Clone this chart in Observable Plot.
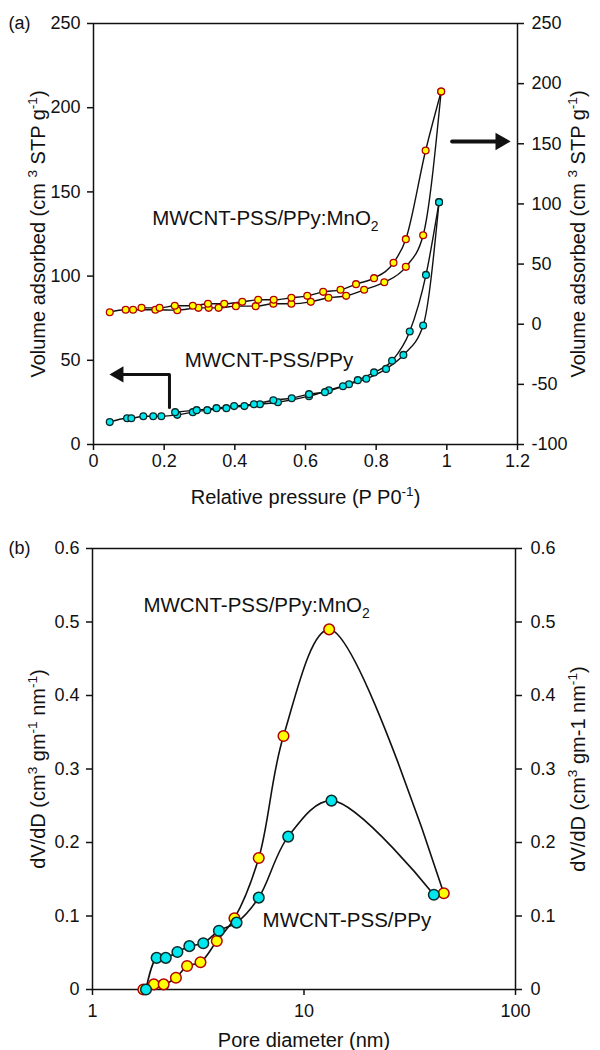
<!DOCTYPE html>
<html><head><meta charset="utf-8">
<script src="https://cdn.jsdelivr.net/npm/d3@7"></script>
<script src="https://cdn.jsdelivr.net/npm/@observablehq/plot@0.6"></script>
<style>
body{margin:0;background:#fff;}
#chart svg{display:block}
</style></head><body><div id="chart"></div>
<script>
// ---------- Panel (a): N2 isotherms ----------
// MWCNT-PSS/PPy (left axis, cm3 STP g-1)
const ppyAdsP = [0.046,0.095,0.107,0.141,0.169,0.192,0.237,0.281,0.322,0.376,0.427,0.471,0.522,0.610,0.666,0.723,0.772,0.828,0.877,0.933,0.978];
const ppyAdsV = [13.3,15.6,15.6,16.8,16.8,16.8,17.6,19.2,20.4,21.6,22.8,23.9,25.1,28.7,32.2,35.8,39.0,44.9,53.2,70.7,143.9];
const ppyDesP = [0.231,0.292,0.348,0.398,0.454,0.509,0.561,0.610,0.655,0.706,0.748,0.794,0.845,0.895,0.941,0.978];
const ppyDesV = [19.2,20.4,21.6,22.8,23.9,26.3,27.5,29.9,31.1,34.6,38.2,42.8,49.7,67.1,100.7,143.9];
// MWCNT-PSS/PPy:MnO2 (right axis, cm3 STP g-1)
const mnAdsP = [0.046,0.091,0.112,0.175,0.237,0.297,0.326,0.354,0.403,0.459,0.509,0.560,0.615,0.665,0.715,0.766,0.823,0.884,0.933,0.984];
const mnAdsV = [10.0,12.0,12.0,12.0,11.7,13.6,13.6,13.6,15.0,15.0,17.0,17.0,18.6,22.0,23.6,28.6,34.9,47.7,74.0,193.5];
const mnDesP = [0.136,0.187,0.230,0.281,0.324,0.370,0.421,0.466,0.510,0.560,0.605,0.650,0.699,0.743,0.794,0.849,0.884,0.940,0.984];
const mnDesV = [13.6,13.6,15.3,15.3,17.0,17.0,18.6,20.3,20.3,22.0,23.6,26.9,28.6,33.3,38.3,51.0,70.7,144.4,193.5];

const aXTicks = [0,0.2,0.4,0.6,0.8,1.0,1.2];
const aYLeftTicks = [0,50,100,150,200,250];
const aYRightTicks = [-100,-50,0,50,100,150,200,250];

// ---------- Panel (b): pore size distribution ----------
const mnD = [1.74,1.95,2.17,2.48,2.80,3.24,3.87,4.69,6.11,8.00,13.15,45.8];
const mnDV = [0,0.007,0.007,0.016,0.032,0.037,0.066,0.097,0.179,0.345,0.49,0.131];
const ppyD = [1.79,2.01,2.22,2.52,2.87,3.34,3.96,4.80,6.11,8.42,13.49,41.1];
const ppyDV = [0,0.043,0.043,0.051,0.059,0.063,0.080,0.091,0.125,0.208,0.257,0.129];

const bXTicks = [1,10,100];
const bYTicks = [0,0.1,0.2,0.3,0.4,0.5,0.6];

const labelMn = "MWCNT-PSS/PPy:MnO_{2}";
const labelPpy = "MWCNT-PSS/PPy";

// ---------- helpers ----------
const FONT = '"Liberation Sans", Arial, Helvetica, sans-serif';
const INK = "#111";
const rightToLeft = v => (v + 100) * 250 / 350;
const leftToRight = v => Math.round(v * 350 / 250 - 100);
const rows = (xs, ys, f = y => y) => xs.map((x, i) => ({x, y: f(ys[i])}));

const cyanFill = "#00e8ee", cyanStroke = "#0b2a2a";
const yelFill = "#ffff00", yelStroke = "#b40000";

function richText(svg) {
  svg.querySelectorAll("text").forEach(t => {
    const s = t.textContent;
    if (!/[\^_]\{/.test(s)) return;
    const base = parseFloat(getComputedStyle(t).fontSize) || 20;
    const small = base * 0.68;
    const parts = s.split(/(\^\{[^}]*\}|_\{[^}]*\})/).filter(p => p !== "");
    t.textContent = "";
    let shift = 0;
    for (const p of parts) {
      const ts = document.createElementNS("http://www.w3.org/2000/svg", "tspan");
      let target = 0, txt = p, size = null;
      if (p.startsWith("^{")) { target = -base * 0.42; txt = p.slice(2, -1); size = small; }
      else if (p.startsWith("_{")) { target = base * 0.25; txt = p.slice(2, -1); size = small; }
      ts.setAttribute("dy", (target - shift).toFixed(2));
      shift = target;
      if (size) ts.setAttribute("font-size", size.toFixed(1));
      ts.textContent = txt;
      t.appendChild(ts);
    }
  });
}

const axisCommon = {tickSize: 6, strokeWidth: 1.5, stroke: INK, fill: INK, fontSize: 18, label: null};
const titleOpts = {fontSize: 20, fill: INK, textAnchor: "middle", lineAnchor: "middle"};

// ---------- Plot (a) ----------
const plotA = Plot.plot({
  width: 600, height: 520,
  marginTop: 23, marginBottom: 76, marginLeft: 93, marginRight: 83,
  style: {fontFamily: FONT, fontSize: "18px", color: INK, background: "white", overflow: "visible"},
  x: {domain: [0, 1.2], label: null},
  y: {domain: [0, 250], label: null},
  marks: [
    Plot.frame({stroke: INK, strokeWidth: 1.5}),
    Plot.axisX(aXTicks, {...axisCommon, tickPadding: 4, tickFormat: d => String(+d.toFixed(1))}),
    Plot.axisY(aYLeftTicks, {...axisCommon, anchor: "left", tickPadding: 7, tickFormat: d => String(d)}),
    Plot.axisY(aYRightTicks.map(rightToLeft), {...axisCommon, anchor: "right", tickPadding: 8, tickFormat: d => String(leftToRight(d))}),
    // curves
    Plot.line(rows(ppyAdsP, ppyAdsV), {x: "x", y: "y", curve: "monotone-x", stroke: INK, strokeWidth: 1.4}),
    Plot.line(rows(ppyDesP, ppyDesV), {x: "x", y: "y", curve: "monotone-x", stroke: INK, strokeWidth: 1.4}),
    Plot.line(rows(mnAdsP, mnAdsV, rightToLeft), {x: "x", y: "y", curve: "monotone-x", stroke: INK, strokeWidth: 1.4}),
    Plot.line(rows(mnDesP, mnDesV, rightToLeft), {x: "x", y: "y", curve: "monotone-x", stroke: INK, strokeWidth: 1.4}),
    // markers
    Plot.dot(rows(mnAdsP, mnAdsV, rightToLeft), {x: "x", y: "y", r: 3.4, fill: yelFill, stroke: yelStroke, strokeWidth: 1.3}),
    Plot.dot(rows(mnDesP, mnDesV, rightToLeft), {x: "x", y: "y", r: 3.4, fill: yelFill, stroke: yelStroke, strokeWidth: 1.3}),
    Plot.dot(rows(ppyAdsP, ppyAdsV), {x: "x", y: "y", r: 3.4, fill: cyanFill, stroke: cyanStroke, strokeWidth: 1.3}),
    Plot.dot(rows(ppyDesP, ppyDesV), {x: "x", y: "y", r: 3.4, fill: cyanFill, stroke: cyanStroke, strokeWidth: 1.3}),
    // arrows
    Plot.line([{x: 0.08, y: 41.6}, {x: 0.215, y: 41.6}, {x: 0.215, y: 22}], {x: "x", y: "y", stroke: INK, strokeWidth: 3}),
    Plot.dot([{x: 0.0716, y: 41.6}], {x: "x", y: "y", symbol: "triangle", rotate: -90, r: 6, fill: INK, stroke: "none"}),
    Plot.line([{x: 1.015, y: 180}, {x: 1.14, y: 180}], {x: "x", y: "y", stroke: INK, strokeWidth: 4}),
    Plot.dot([{x: 1.152, y: 180}], {x: "x", y: "y", symbol: "triangle", rotate: 90, r: 6.5, fill: INK, stroke: "none"}),
    // annotations
    Plot.text([{x: 0.166, y: 134, t: labelMn}], {x: "x", y: "y", text: "t", textAnchor: "start", fontSize: 20.5, fill: INK}),
    Plot.text([{x: 0.258, y: 50, t: labelPpy}], {x: "x", y: "y", text: "t", textAnchor: "start", fontSize: 20.5, fill: INK}),
    // axis titles
    Plot.text(["Volume adsorbed (cm ^{3} STP g^{-1})"], {...titleOpts, frameAnchor: "left", dx: -55, rotate: -90}),
    Plot.text(["Volume adsorbed (cm ^{3} STP g^{-1})"], {...titleOpts, frameAnchor: "right", dx: 61, rotate: -90}),
    Plot.text(["Relative pressure (P P0^{-1})"], {...titleOpts, frameAnchor: "bottom", dy: 53}),
    Plot.text(["(a)"], {frameAnchor: "top-left", dx: -85, textAnchor: "start", lineAnchor: "middle", fontSize: 18, fill: INK})
  ]
});

// ---------- Plot (b) ----------
const plotB = Plot.plot({
  width: 600, height: 530,
  marginTop: 28, marginBottom: 61, marginLeft: 92, marginRight: 85,
  style: {fontFamily: FONT, fontSize: "18px", color: INK, background: "white", overflow: "visible"},
  x: {type: "log", domain: [1, 100], label: null},
  y: {domain: [0, 0.6], label: null},
  marks: [
    Plot.frame({stroke: INK, strokeWidth: 1.5}),
    Plot.axisX(bXTicks, {...axisCommon, tickPadding: 9, tickFormat: d => String(d)}),
    Plot.axisY(bYTicks, {...axisCommon, anchor: "left", tickPadding: 7, tickFormat: d => d === 0 ? "0" : d.toFixed(1)}),
    Plot.axisY(bYTicks, {...axisCommon, anchor: "right", tickPadding: 9, tickFormat: d => d === 0 ? "0" : d.toFixed(1)}),
    Plot.line(rows(mnD, mnDV), {x: "x", y: "y", curve: "catmull-rom", stroke: INK, strokeWidth: 1.6}),
    Plot.line(rows(ppyD, ppyDV), {x: "x", y: "y", curve: "catmull-rom", stroke: INK, strokeWidth: 1.6}),
    Plot.dot(rows(mnD, mnDV), {x: "x", y: "y", r: 5.3, fill: yelFill, stroke: yelStroke, strokeWidth: 1.5}),
    Plot.dot(rows(ppyD, ppyDV), {x: "x", y: "y", r: 5.3, fill: cyanFill, stroke: cyanStroke, strokeWidth: 1.5}),
    Plot.text([{x: 1.74, y: 0.522, t: labelMn}], {x: "x", y: "y", text: "t", textAnchor: "start", fontSize: 20.5, fill: INK}),
    Plot.text([{x: 6.37, y: 0.094, t: labelPpy}], {x: "x", y: "y", text: "t", textAnchor: "start", fontSize: 20.5, fill: INK}),
    Plot.text(["dV/dD (cm^{3} gm^{-1} nm^{-1})"], {...titleOpts, frameAnchor: "left", dx: -54, rotate: -90}),
    Plot.text(["dV/dD (cm^{3} gm-1 nm^{-1})"], {...titleOpts, frameAnchor: "right", dx: 63, rotate: -90}),
    Plot.text(["Pore diameter (nm)"], {...titleOpts, frameAnchor: "bottom", dy: 51}),
    Plot.text(["(b)"], {frameAnchor: "top-left", dx: -84, textAnchor: "start", lineAnchor: "middle", fontSize: 18, fill: INK})
  ]
});

const root = document.getElementById("chart");
root.appendChild(plotA);
root.appendChild(plotB);
richText(plotA);
richText(plotB);
</script>
</body></html>
